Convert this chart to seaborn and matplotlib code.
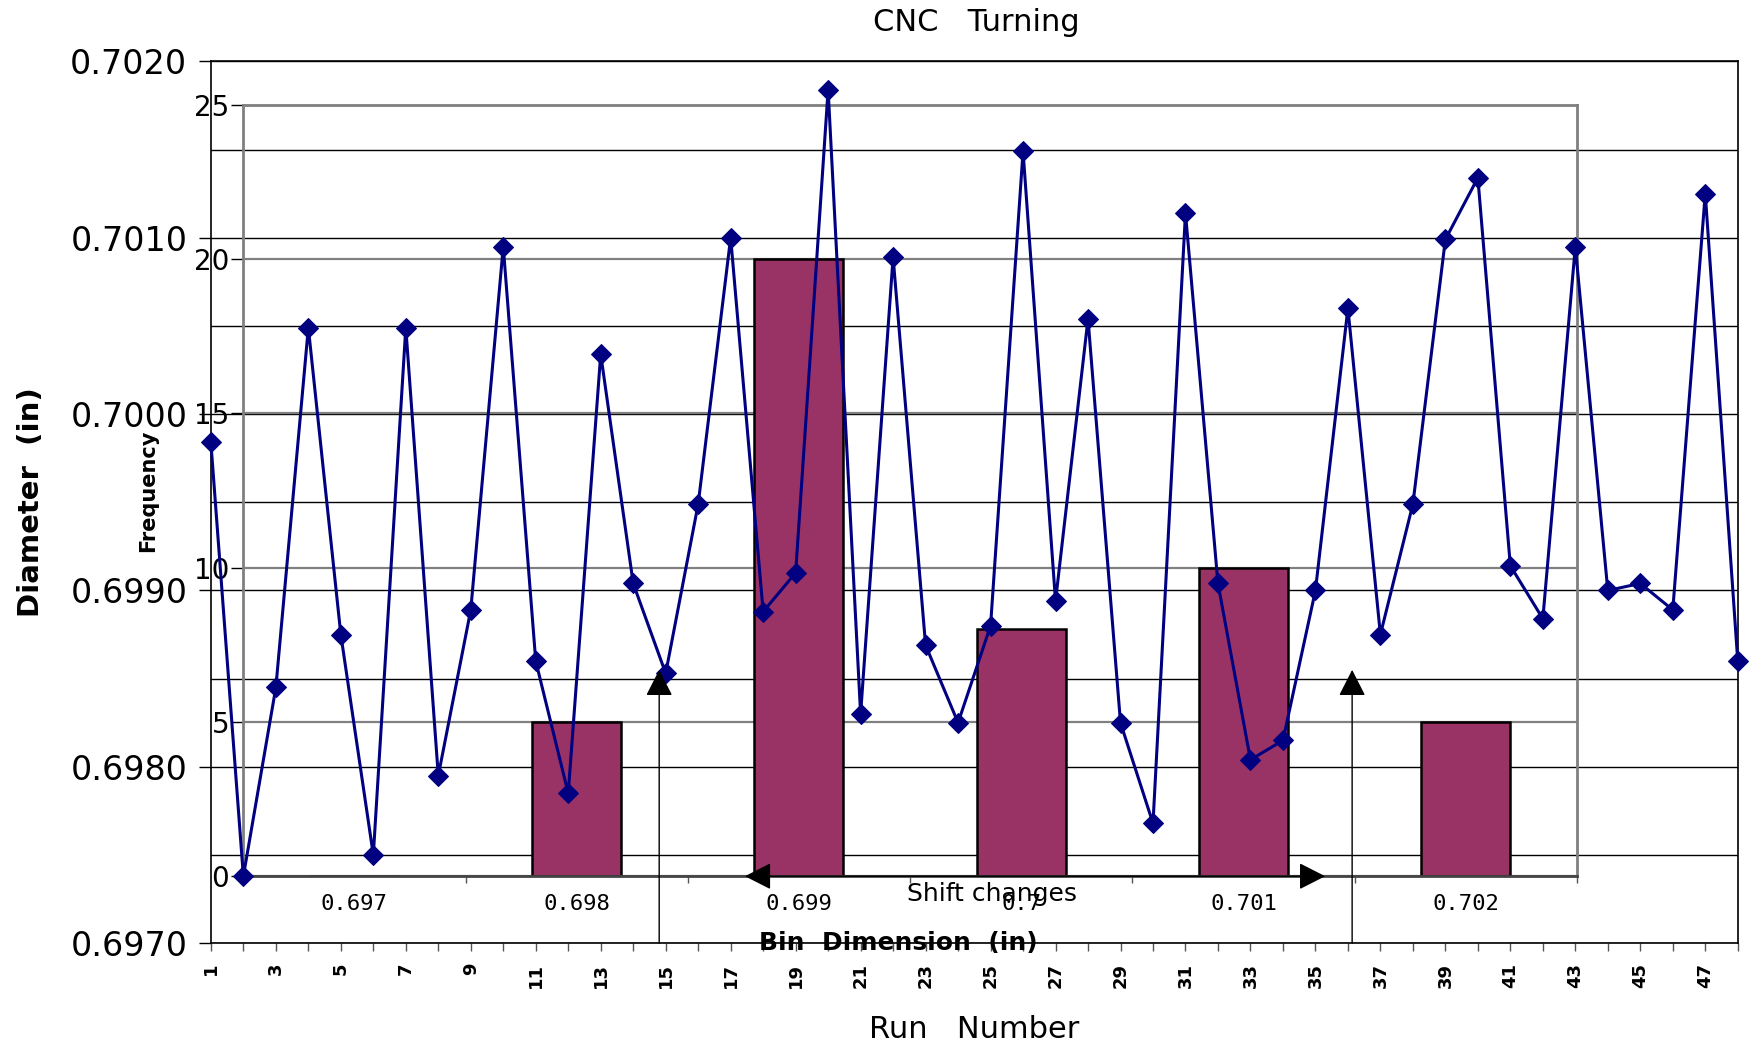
import numpy as np
import pandas as pd
import matplotlib
matplotlib.use("Agg")
import matplotlib.pyplot as plt
from matplotlib.ticker import FixedLocator, MultipleLocator
import seaborn as sns

sns.set_style("white")
plt.rcParams['font.family'] = ['DejaVu Sans']
for key in ["text.color", "axes.labelcolor", "xtick.color", "ytick.color"]:
    plt.rcParams[key] = "black"

# ---------------- data ----------------
run_numbers = list(range(1, 49))
diameters = [0.69984, 0.69738, 0.69845, 0.70049, 0.69875, 0.69750, 0.70049, 0.69795,
             0.69889, 0.70095, 0.69860, 0.69785, 0.70034, 0.69904, 0.69853, 0.69949,
             0.70100, 0.69888, 0.69910, 0.70184, 0.69830, 0.70089, 0.69869, 0.69825,
             0.69880, 0.70149, 0.69894, 0.70054, 0.69825, 0.69768, 0.70114, 0.69904,
             0.69804, 0.69815, 0.69900, 0.70060, 0.69875, 0.69949, 0.70099, 0.70134,
             0.69914, 0.69884, 0.70095, 0.69900, 0.69904, 0.69889, 0.70125, 0.69860]
bin_labels = ["0.697", "0.698", "0.699", "0.7", "0.701", "0.702"]
bin_freq = [0, 5, 20, 8, 10, 5]

diam_ticks = [0.6970, 0.6980, 0.6990, 0.7000, 0.7010, 0.7020]
freq_ticks = [0, 5, 10, 15, 20, 25]

shift_arrow_runs = [14.8, 36.13]     # vertical "shift change" markers
shift_span = [17.44, 35.3]           # horizontal double arrow

line_color = "#000080"
bar_color = "#993366"

# ---------------- layout ----------------
fig = plt.figure(figsize=(17.5, 10.47), dpi=100)
main_rect = [0.1205, 0.0991, 0.8725, 0.8423]
inset_rect = [0.1390, 0.1631, 0.7621, 0.7367]

ax_main = fig.add_axes(main_rect, zorder=1)
ax_hist = fig.add_axes(inset_rect, zorder=2)
ax_line = fig.add_axes(main_rect, zorder=3)

# ----- main axes (grid, ticks) -----
ax_main.set_xlim(1, 48)
ax_main.set_ylim(0.6970, 0.7020)
ax_main.yaxis.set_major_locator(FixedLocator(diam_ticks))
ax_main.set_yticklabels([f"{v:.4f}" for v in diam_ticks])
ax_main.yaxis.set_minor_locator(MultipleLocator(0.0005))
ax_main.grid(True, which="both", axis="y", color="black", linewidth=1.0)
ax_main.set_xticks(run_numbers)
ax_main.set_xticklabels([str(r) if r % 2 == 1 else "" for r in run_numbers],
                        rotation=90, fontsize=13, fontweight="bold")
ax_main.tick_params(axis="y", which="major", direction="out", length=9, width=1,
                    labelsize=24, pad=8, left=True)
ax_main.tick_params(axis="y", which="minor", length=0)
ax_main.tick_params(axis="x", which="major", direction="out", length=6, width=1,
                    pad=8, bottom=True, color="#555555")
for s in ax_main.spines.values():
    s.set_color("black")
    s.set_linewidth(1.2)
ax_main.set_facecolor("white")

# ----- histogram inset -----
ax_hist.patch.set_visible(False)
sns.barplot(x=bin_labels, y=bin_freq, ax=ax_hist, color=bar_color, saturation=1,
            width=0.4, edgecolor="black", linewidth=1.8, order=bin_labels)
ax_hist.set_xlim(-0.5, 5.5)
ax_hist.set_ylim(0, 25)
ax_hist.set_yticks(freq_ticks)
ax_hist.set_yticklabels([str(v) for v in freq_ticks])
ax_hist.set_axisbelow(True)
ax_hist.grid(True, axis="y", color="#808080", linewidth=1.6)
ax_hist.grid(False, axis="x")
ax_hist.set_xlabel("")
ax_hist.set_ylabel("")
ax_hist.tick_params(axis="y", direction="out", length=9, width=1, labelsize=20,
                    pad=1, left=True, color="black")
ax_hist.tick_params(axis="x", which="major", length=0, labelsize=16, pad=13)
ax_hist.xaxis.set_minor_locator(FixedLocator([0.5, 1.5, 2.5, 3.5, 4.5, 5.5]))
ax_hist.tick_params(axis="x", which="minor", direction="out", length=5, width=1,
                    bottom=True, color="#555555")
for lab in ax_hist.get_xticklabels():
    lab.set_fontfamily("DejaVu Sans Mono")
for name, s in ax_hist.spines.items():
    s.set_color("#808080")
    s.set_linewidth(2)
ax_hist.spines["bottom"].set_color("#444444")

# ----- line on top -----
ax_line.patch.set_visible(False)
df = pd.DataFrame({"run": run_numbers, "diam": diameters})
sns.lineplot(data=df, x="run", y="diam", ax=ax_line, color=line_color, linewidth=2.2,
             marker="D", markersize=10, markeredgecolor=line_color,
             markerfacecolor=line_color, clip_on=False)
ax_line.set_xlim(1, 48)
ax_line.set_ylim(0.6970, 0.7020)
ax_line.axis("off")

# annotations
for xr in shift_arrow_runs:
    ax_line.annotate("", xy=(xr, 0.69855), xytext=(xr, 0.6970),
                     arrowprops=dict(arrowstyle="-|>,head_length=0.55,head_width=0.28",
                                     mutation_scale=30, color="black", lw=1,
                                     shrinkA=0, shrinkB=0), annotation_clip=False)
ax_line.annotate("", xy=(shift_span[0], 0.69738), xytext=(shift_span[1], 0.69738),
                 arrowprops=dict(arrowstyle="<|-|>,head_length=0.55,head_width=0.28",
                                 mutation_scale=30, color="black", lw=1,
                                 shrinkA=0, shrinkB=0), annotation_clip=False)
ax_line.text(25.05, 0.69728, "Shift changes", ha="center", va="center", fontsize=18)

# ----- texts -----
fig.text(0.558, 1 - 20 / 938, "CNC   Turning", ha="center", va="center", fontsize=22)
fig.text(0.5568, 1 - 922 / 938, "Run   Number", ha="center", va="center", fontsize=22)
fig.text(28 / 1568, 1 - 450 / 938, "Diameter  (in)", ha="center", va="center",
         rotation=90, fontsize=21, fontweight="bold")
fig.text(133 / 1568, 1 - 440 / 938, "Frequency", ha="center", va="center",
         rotation=90, fontsize=15, fontweight="bold")
fig.text(805 / 1568, 1 - 845 / 938, "Bin  Dimension  (in)", ha="center", va="center",
         fontsize=18, fontweight="bold")

fig.savefig("out.png", dpi=100, facecolor="white")
